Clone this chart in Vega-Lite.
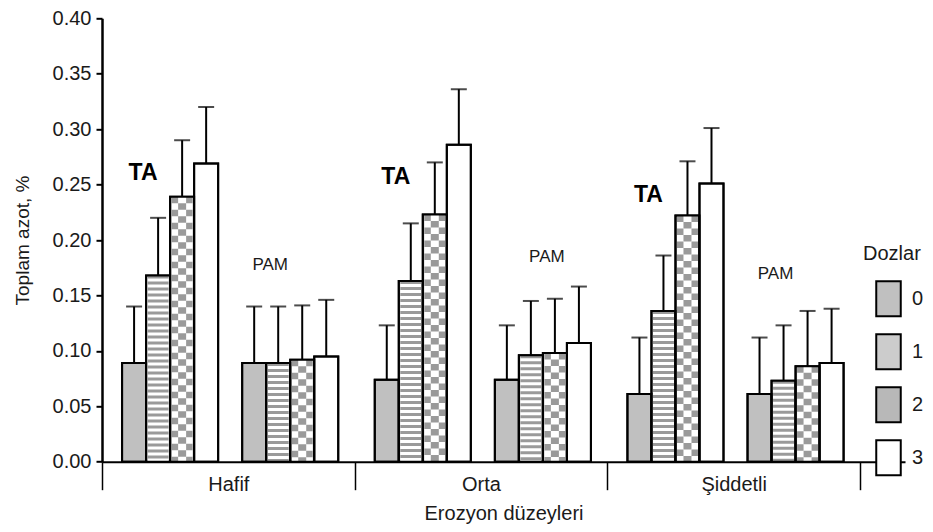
{
  "$schema": "https://vega.github.io/schema/vega-lite/v6.json",
  "width": 803,
  "height": 443.4,
  "autosize": "none",
  "padding": {"left": 102, "top": 18.3, "right": 28, "bottom": 70.3},
  "config": {
    "font": "Liberation Sans",
    "view": {"stroke": null},
    "axis": {"labelColor": "#1a1a1a", "titleColor": "#1a1a1a", "domainColor": "#000000", "tickColor": "#000000", "grid": false, "titleFontWeight": "normal"}
  },
  "datasets": {
    "bars": [
      {"erosion": "Hafif", "group": "TA", "dose": "0", "value": 0.089, "upper": 0.14},
      {"erosion": "Hafif", "group": "TA", "dose": "1", "value": 0.168, "upper": 0.22},
      {"erosion": "Hafif", "group": "TA", "dose": "2", "value": 0.239, "upper": 0.29},
      {"erosion": "Hafif", "group": "TA", "dose": "3", "value": 0.269, "upper": 0.32},
      {"erosion": "Hafif", "group": "PAM", "dose": "0", "value": 0.089, "upper": 0.14},
      {"erosion": "Hafif", "group": "PAM", "dose": "1", "value": 0.089, "upper": 0.14},
      {"erosion": "Hafif", "group": "PAM", "dose": "2", "value": 0.092, "upper": 0.141},
      {"erosion": "Hafif", "group": "PAM", "dose": "3", "value": 0.095, "upper": 0.146},
      {"erosion": "Orta", "group": "TA", "dose": "0", "value": 0.074, "upper": 0.123},
      {"erosion": "Orta", "group": "TA", "dose": "1", "value": 0.163, "upper": 0.215},
      {"erosion": "Orta", "group": "TA", "dose": "2", "value": 0.223, "upper": 0.27},
      {"erosion": "Orta", "group": "TA", "dose": "3", "value": 0.286, "upper": 0.336},
      {"erosion": "Orta", "group": "PAM", "dose": "0", "value": 0.074, "upper": 0.123},
      {"erosion": "Orta", "group": "PAM", "dose": "1", "value": 0.096, "upper": 0.145},
      {"erosion": "Orta", "group": "PAM", "dose": "2", "value": 0.098, "upper": 0.147},
      {"erosion": "Orta", "group": "PAM", "dose": "3", "value": 0.107, "upper": 0.158},
      {"erosion": "Şiddetli", "group": "TA", "dose": "0", "value": 0.061, "upper": 0.112},
      {"erosion": "Şiddetli", "group": "TA", "dose": "1", "value": 0.136, "upper": 0.186},
      {"erosion": "Şiddetli", "group": "TA", "dose": "2", "value": 0.222, "upper": 0.271},
      {"erosion": "Şiddetli", "group": "TA", "dose": "3", "value": 0.251, "upper": 0.301},
      {"erosion": "Şiddetli", "group": "PAM", "dose": "0", "value": 0.061, "upper": 0.112},
      {"erosion": "Şiddetli", "group": "PAM", "dose": "1", "value": 0.073, "upper": 0.123},
      {"erosion": "Şiddetli", "group": "PAM", "dose": "2", "value": 0.086, "upper": 0.136},
      {"erosion": "Şiddetli", "group": "PAM", "dose": "3", "value": 0.089, "upper": 0.138}
    ],
    "labels": [
      {"erosion": "Hafif", "label": "TA", "slot": "TA-0", "y": 0.26},
      {"erosion": "Orta", "label": "TA", "slot": "TA-0", "y": 0.257},
      {"erosion": "Şiddetli", "label": "TA", "slot": "TA-0", "y": 0.2405},
      {"erosion": "Hafif", "label": "PAM", "slot": "PAM-0", "y": 0.177},
      {"erosion": "Orta", "label": "PAM", "slot": "PAM-1", "y": 0.1845},
      {"erosion": "Şiddetli", "label": "PAM", "slot": "PAM-0", "y": 0.1693}
    ]
  },
  "layer": [
    {
      "data": {"name": "bars"},
      "transform": [{"calculate": "datum.group + '-' + datum.dose", "as": "slot"}],
      "encoding": {
        "x": {
          "field": "erosion", "type": "nominal", "sort": ["Hafif", "Orta", "Şiddetli"],
          "scale": {"domain": ["Hafif", "Orta", "Şiddetli"], "paddingInner": 0, "paddingOuter": 0.089, "align": 0},
          "axis": {
            "title": "Erozyon düzeyleri", "labelAngle": 0, "tickBand": "extent", "tickSize": 28, "tickWidth": 1.5,
            "domainWidth": 2, "labelFontSize": 20, "labelPadding": -15, "titleFontSize": 20, "titlePadding": 9
          }
        },
        "xOffset": {
          "field": "slot", "type": "nominal",
          "scale": {"domain": ["TA-0", "TA-1", "TA-2", "TA-3", "gap", "PAM-0", "PAM-1", "PAM-2", "PAM-3"], "paddingInner": 0, "paddingOuter": 0.76, "align": 0.55}
        },
        "y": {
          "field": "value", "type": "quantitative",
          "scale": {"domain": [0, 0.4], "nice": false, "zero": true},
          "axis": {
            "title": "Toplam azot, %", "values": [0, 0.05, 0.1, 0.15, 0.2, 0.25, 0.3, 0.35, 0.4], "format": ".2f",
            "labelFontSize": 20, "labelPadding": 5, "tickSize": 6, "tickWidth": 2, "domainWidth": 2.5,
            "titleFontSize": 19, "titlePadding": 20
          }
        }
      },
      "layer": [
        {
          "mark": {"type": "bar", "stroke": "#000000", "strokeWidth": 2},
          "encoding": {
            "fill": {
              "field": "dose", "type": "nominal", "title": "Dozlar",
              "scale": {"domain": ["0", "1", "2", "3"], "range": ["#c0c0c0", "#cccccc", "#b8b8b8", "#ffffff"]},
              "legend": {
                "orient": "none", "legendX": 761, "legendY": 226, "padding": 0,
                "titleFontSize": 20, "titleFontWeight": "normal", "titleColor": "#1a1a1a", "titlePadding": 16,
                "labelFontSize": 20, "labelColor": "#1a1a1a", "labelOffset": 5,
                "symbolType": "M-0.7,-1H0.7V1H-0.7Z", "symbolSize": 1225, "symbolStrokeColor": "#000000", "symbolStrokeWidth": 2,
                "symbolOffset": 7, "rowPadding": 10, "symbolOpacity": 1,
                "encode": {
                  "symbols": {
                    "update": {
                      "stroke": {"value": "#000000"},
                      "strokeWidth": {"value": 2}
                    }
                  }
                }
              }
            }
          }
        },
        {
          "transform": [{"filter": "datum.dose == '1' || datum.dose == '2'"}],
          "mark": {"type": "rule", "color": "#ffffff", "strokeWidth": 21, "strokeCap": "butt"},
          "encoding": {"y2": {"datum": 0}}
        },
        {
          "transform": [{"filter": "datum.dose == '1'"}],
          "mark": {"type": "rule", "color": "#9a9a9a", "strokeWidth": 21, "strokeCap": "butt", "strokeDash": [3, 3]},
          "encoding": {"y2": {"datum": 0}}
        },
        {
          "transform": [{"filter": "datum.dose == '2'"}],
          "mark": {"type": "rule", "color": "#9a9a9a", "strokeWidth": 21, "strokeCap": "butt", "strokeDash": [6.5, 6.5]},
          "encoding": {"y2": {"datum": 0}}
        },
        {
          "transform": [{"filter": "datum.dose == '2'"}],
          "mark": {"type": "rule", "color": "#ffffff", "strokeWidth": 8, "strokeCap": "butt"},
          "encoding": {"y2": {"datum": 0}}
        },
        {
          "transform": [{"filter": "datum.dose == '2'"}],
          "mark": {"type": "rule", "color": "#9a9a9a", "strokeWidth": 8, "strokeCap": "butt", "strokeDash": [6.5, 6.5], "strokeDashOffset": 6.5},
          "encoding": {"y2": {"datum": 0}}
        },
        {
          "mark": {"type": "bar", "fill": "transparent", "stroke": "#000000", "strokeWidth": 2}
        },
        {
          "mark": {"type": "rule", "color": "#000000", "strokeWidth": 2},
          "encoding": {"y2": {"field": "upper"}}
        },
        {
          "mark": {"type": "tick", "color": "#000000", "thickness": 2, "size": 16},
          "encoding": {"y": {"field": "upper", "type": "quantitative"}}
        }
      ]
    },
    {
      "data": {"name": "labels"},
      "transform": [{"filter": "datum.label == 'TA'"}],
      "mark": {"type": "text", "fontSize": 23, "fontWeight": "bold", "color": "#000000", "dx": 9, "baseline": "middle", "align": "center"},
      "encoding": {
        "x": {"field": "erosion", "type": "nominal"},
        "xOffset": {"field": "slot", "type": "nominal"},
        "y": {"field": "y", "type": "quantitative"},
        "text": {"field": "label"}
      }
    },
    {
      "data": {"name": "labels"},
      "transform": [{"filter": "datum.label == 'PAM'"}],
      "mark": {"type": "text", "fontSize": 17, "color": "#1a1a1a", "dx": 16, "baseline": "middle", "align": "center"},
      "encoding": {
        "x": {"field": "erosion", "type": "nominal"},
        "xOffset": {"field": "slot", "type": "nominal"},
        "y": {"field": "y", "type": "quantitative"},
        "text": {"field": "label"}
      }
    }
  ]
}
